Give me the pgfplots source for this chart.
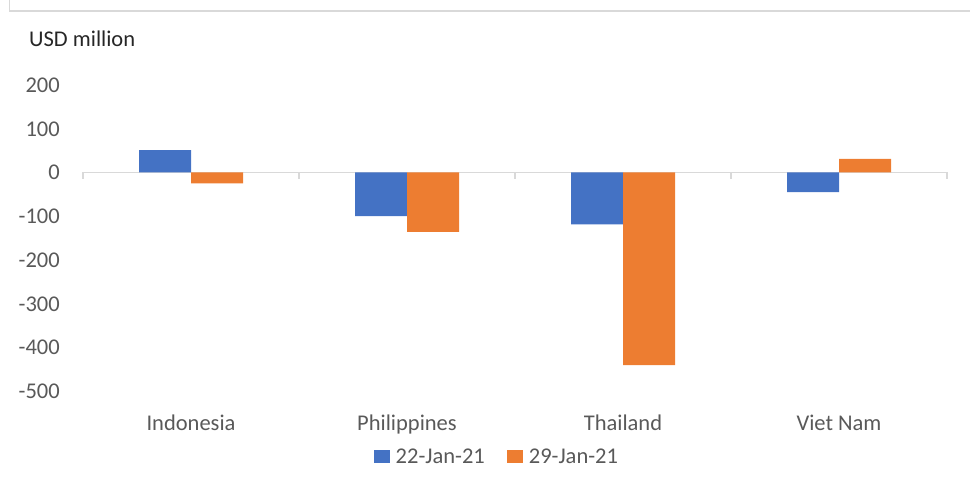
\documentclass[border=0pt]{standalone}
\usepackage{fontspec}
\setmainfont{Carlito}
\usepackage{pgfplots}
\pgfplotsset{compat=1.18}
\definecolor{xlblue}{HTML}{4472C4}
\definecolor{xlorange}{HTML}{ED7D31}
\definecolor{xlgrey}{HTML}{595959}
\definecolor{xlline}{HTML}{D9D9D9}
\newcommand{\chartfont}{\fontsize{22.5bp}{27bp}\selectfont}

\begin{document}
\begin{tikzpicture}[x=1bp,y=1bp]
\useasboundingbox (0,0) rectangle (970,487);
% chart area border (only top and left visible)
\draw[xlline, line width=1.2bp] (9.5,487) -- (9.5,476) -- (970,476);
\node[anchor=base west, inner sep=0pt, font=\chartfont, text=black!85] at (29,440.5) {USD million};
\begin{axis}[
  at={(83bp,96bp)}, anchor=south west,
  width=864bp, height=306bp, scale only axis,
  ybar=0pt, bar width=52bp,
  xmin=-0.5, xmax=3.5, ymin=-500, ymax=200,
  axis line style={draw=none},
  xtick={0,1,2,3},
  xticklabels={Indonesia,Philippines,Thailand,Viet Nam},
  ytick={-500,-400,-300,-200,-100,0,100,200},
  yticklabels={-500,-400,-300,-200,-100,0,100,200},
  major tick length=0pt,
  tick label style={font=\chartfont, text=xlgrey, inner sep=0pt},
  yticklabel style={anchor=base east, xshift=-23bp, yshift=-7.5bp},
  xticklabel style={anchor=base, yshift=-40bp},
  legend style={at={(0.479,0)}, anchor=center, yshift=-66bp, draw=none,
    font=\chartfont, text=xlgrey, legend columns=2,
    /tikz/every odd column/.append style={column sep=4bp},
    /tikz/every even column/.append style={column sep=20bp}},
  legend image code/.code={\fill[#1] (0bp,-6.5bp) rectangle (16bp,6.5bp);},
  clip=false,
]
\draw[xlline, line width=1.5bp] (axis cs:-0.5,0) -- (axis cs:3.5,0);
\draw[xlline, line width=1.5bp] (axis cs:-0.5,0) -- ++(0pt,-7bp);
\draw[xlline, line width=1.5bp] (axis cs:0.5,0) -- ++(0pt,-7bp);
\draw[xlline, line width=1.5bp] (axis cs:1.5,0) -- ++(0pt,-7bp);
\draw[xlline, line width=1.5bp] (axis cs:2.5,0) -- ++(0pt,-7bp);
\draw[xlline, line width=1.5bp] (axis cs:3.5,0) -- ++(0pt,-7bp);
\addplot[fill=xlblue, draw=none]
  coordinates {(0,51) (1,-100) (2,-119) (3,-45)};
\addplot[fill=xlorange, draw=none]
  coordinates {(0,-25) (1,-136) (2,-441) (3,31)};
\legend{22-Jan-21,29-Jan-21}
\end{axis}
\end{tikzpicture}
\end{document}
